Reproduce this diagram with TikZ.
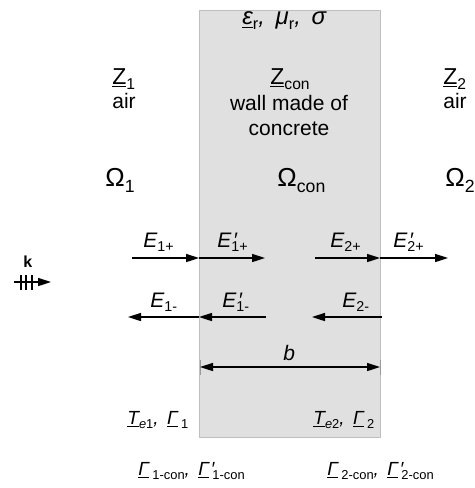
\documentclass[tikz,border=0pt]{standalone}
\usepackage{fontspec}
\setmainfont{Liberation Sans}
\usetikzlibrary{positioning}
\usetikzlibrary{arrows.meta}

\newcommand{\lo}[1]{\raisebox{-0.45ex}{\scalebox{0.68}{\upshape #1}}}
\newcommand{\pr}{\makebox[0pt][l]{\kern0.8pt′}}

\begin{document}
\begin{tikzpicture}[
    x=0.5pt, y=-0.5pt,
    %% ── Styles ──────────────────────────────────────────────────
    wall/.style  ={draw=black!25, fill=black!12, line width=0.5pt},
    txt/.style   ={inner sep=0pt, anchor=base west, font=\fontsize{10.5}{12}\selectfont},
    big/.style   ={inner sep=0pt, anchor=base west, font=\fontsize{11.5}{13}\selectfont},
    omg/.style   ={inner sep=0pt, anchor=base west, font=\fontsize{13}{15}\selectfont},
    lbl/.style   ={inner sep=0pt, anchor=base west, font=\fontsize{10.5}{12}\selectfont\itshape},
    sml/.style   ={inner sep=0pt, anchor=base west, font=\fontsize{9.5}{11}\selectfont\itshape},
    arr/.style   ={-{Triangle[length=6.5pt, width=4pt]}, line width=0.8pt, color=black},
    dim/.style   ={{Triangle[length=6.5pt, width=4pt]}-{Triangle[length=6.5pt, width=4pt]},
                   line width=0.8pt, color=black},
    tick/.style  ={draw=black!40, line width=0.4pt}
]
    \useasboundingbox (0,0) rectangle (475,488);

    %% ── Wall ────────────────────────────────────────────────────
    \coordinate (wallnw) at (199,10);
    \coordinate (wallse) at (380,437);
    \draw[wall] (wallnw) rectangle (wallse);

    %% ── Material texts ──────────────────────────────────────────
    \node[lbl, font=\fontsize{12}{14}\selectfont\itshape] (param) at (242,24)
        {\underline{ε}\lo{r}, \,μ\lo{r}, \,σ};

    \node[big] (zone)  at (112,84)  {\underline{Z}\lo{1}};
    \node[txt] (airone) at (112,108) {air};
    \node[big] (zcon)  at (270,84)  {\underline{Z}\lo{con}};
    \node[txt, anchor=base] (wallA) at (289,110) {wall made of};
    \node[txt, anchor=base] (wallB) at (289,135) {concrete};
    \node[big] (ztwo)  at (443,84)  {\underline{Z}\lo{2}};
    \node[txt] (airtwo) at (443,108) {air};

    \node[omg] (omone) at (105,186) {Ω\lo{1}};
    \node[omg] (omcon) at (277,186) {Ω\lo{con}};
    \node[omg] (omtwo) at (445,186) {Ω\lo{2}};

    %% ── Wave labels ─────────────────────────────────────────────
    \node[lbl] (eonep)  at (143,247) {E\lo{1+}};
    \node[lbl] (eonepp) at (217,247) {E\pr\lo{1+}};
    \node[lbl] (etwop)  at (330,247) {E\lo{2+}};
    \node[lbl] (etwopp) at (393,247) {E\pr\lo{2+}};
    \node[lbl] (eonem)  at (150,307) {E\lo{1-}};
    \node[lbl] (eonemm) at (222,307) {E\pr\lo{1-}};
    \node[lbl] (etwom)  at (342,307) {E\lo{2-}};

    %% ── Arrow ends ──────────────────────────────────────────────
    \coordinate (u1) at (132,258);
    \coordinate (u2) at (199,258);
    \coordinate (u3) at (265,258);
    \coordinate (u4) at (315,258);
    \coordinate (u5) at (380,258);
    \coordinate (u6) at (448,258);
    \coordinate (l1) at (128,317);
    \coordinate (l2) at (199,317);
    \coordinate (l3) at (266,317);
    \coordinate (l4) at (312,317);
    \coordinate (l5) at (382,317);

    \draw[arr] (u1) -- (u2);
    \draw[arr] (u2) -- (u3);
    \draw[arr] (u4) -- (u5);
    \draw[arr] (u5) -- (u6);
    \draw[arr] (l2) -- (l1);
    \draw[arr] (l3) -- (l2);
    \draw[arr] (l5) -- (l4);

    %% ── Wave vector k ───────────────────────────────────────────
    \node[inner sep=0pt, anchor=base west, font=\fontsize{8}{9}\selectfont\bfseries] (klbl) at (23,267) {k};
    \coordinate (k1) at (14,282);
    \coordinate (k2) at (51,282);
    \draw[arr] (k1) -- (k2);
    \draw[line width=0.9pt] (21,275) -- (21,290) (26,275) -- (26,290) (32,275) -- (32,290);

    %% ── Thickness b ─────────────────────────────────────────────
    \coordinate (d1) at (200,367);
    \coordinate (d2) at (380,367);
    \draw[tick] (200,360) -- (200,375) (380,360) -- (380,375);
    \draw[dim] (d1) -- (d2);
    \node[lbl] (thick) at (283,360) {b};

    %% ── Interface coefficients ──────────────────────────────────
    \node[sml] (tone) at (127,424) {\underline{T}\lo{\itshape e\upshape 1}, \,\underline{Γ}\,\lo{1}};
    \node[sml] (ttwo) at (313,424) {\underline{T}\lo{\itshape e\upshape 2}, \,\underline{Γ}\,\lo{2}};
    \node[sml] (gone) at (138,475) {\underline{Γ}\,\lo{1-con}, \,\underline{Γ}\pr\,\lo{1-con}};
    \node[sml] (gtwo) at (327,475) {\underline{Γ}\,\lo{2-con}, \,\underline{Γ}\pr\,\lo{2-con}};

\end{tikzpicture}
\end{document}
